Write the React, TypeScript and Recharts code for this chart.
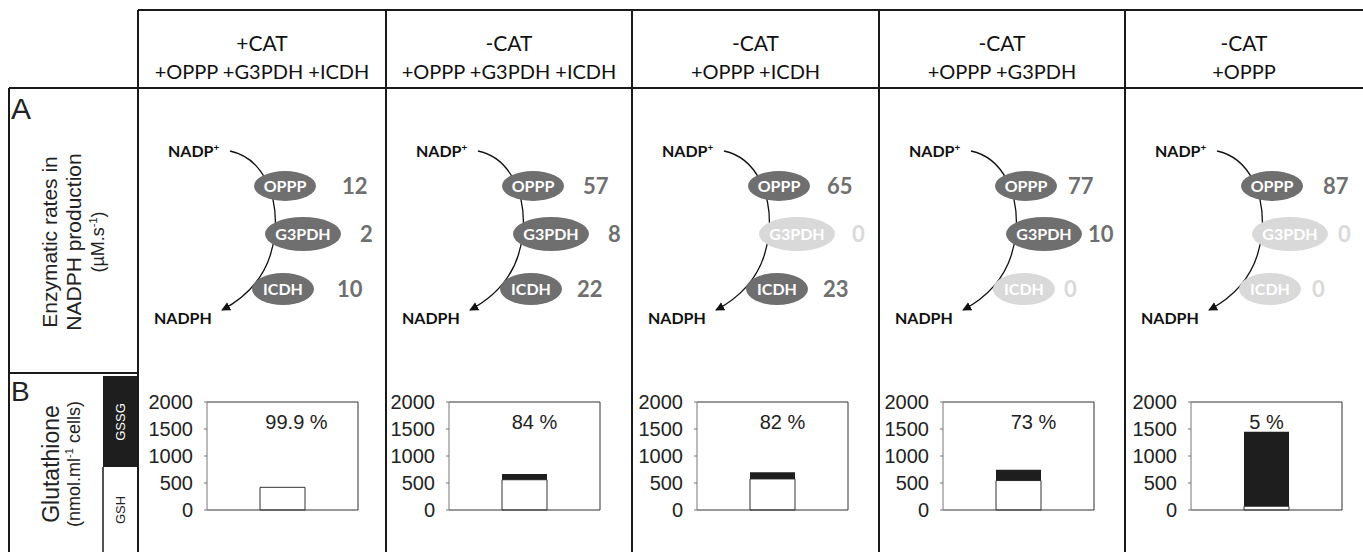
import { BarChart, Bar, XAxis, YAxis, ReferenceDot } from "recharts";

const conditions = ["+CAT", "-CAT", "-CAT", "-CAT", "-CAT"];
const enzymeSets = [
  "+OPPP +G3PDH +ICDH",
  "+OPPP +G3PDH +ICDH",
  "+OPPP +ICDH",
  "+OPPP +G3PDH",
  "+OPPP",
];
const enzymes = ["OPPP", "G3PDH", "ICDH"];
const opppRates = [12, 57, 65, 77, 87];
const g3pdhRates = [2, 8, 0, 10, 0];
const icdhRates = [10, 22, 23, 0, 0];
const gshValues = [420, 560, 575, 545, 70];
const gssgValues = [0.4, 107, 125, 200, 1380];
const gshPercent = ["99.9 %", "84 %", "82 %", "73 %", "5 %"];
const yTicks = [0, 500, 1000, 1500, 2000];

// layout
const colX = [138, 386, 632, 879, 1125];
const chartLeft = [142, 384, 632, 878, 1126];
const labelDx = [14, 10, 10, 15, 0];
const ellipses = [
  { cx: 147, cy: 186, rx: 31, ry: 15 },
  { cx: 165, cy: 234, rx: 38, ry: 17 },
  { cx: 145, cy: 289, rx: 31, ry: 16 },
];
const numberX = [
  [204, 222, 199],
  [197, 222, 191],
  [195, 220, 191],
  [189, 209, 185],
  [198, 213, 187],
];

const LINE = "#1a1a1a";
const ACTIVE = "#6f6f6f";
const INACTIVE = "#d9d9d9";
const ARIAL = "'Liberation Sans', Arial, sans-serif";
const CALIBRI = "Lato, 'Open Sans', sans-serif";

const Pathway = ({ i }: { i: number }) => {
  const x0 = colX[i];
  const rates = [opppRates[i], g3pdhRates[i], icdhRates[i]];
  return (
    <g transform={`translate(${x0},0)`} fontFamily={CALIBRI} fontWeight="bold">
      <text x={30} y={157} fontSize={16} fill="#111">
        NADP<tspan fontSize={10} dy={-6}>+</tspan>
      </text>
      <path
        d="M 92 151 C 125 158, 140 195, 137 232 C 134 265, 118 292, 84 310"
        fill="none"
        stroke="#111"
        strokeWidth={1.3}
        markerEnd="url(#arr)"
      />
      {enzymes.map((name, k) => {
        const e = ellipses[k];
        const on = rates[k] > 0;
        return (
          <g key={name}>
            <ellipse cx={e.cx} cy={e.cy} rx={e.rx} ry={e.ry} fill={on ? ACTIVE : INACTIVE} />
            <text x={e.cx} y={e.cy + 6} fontSize={16} fill="#fff" textAnchor="middle">
              {name}
            </text>
            <text x={numberX[i][k]} y={e.cy + 8} fontSize={22} fill={on ? ACTIVE : INACTIVE}>
              {rates[k]}
            </text>
          </g>
        );
      })}
      <text x={16} y={324} fontSize={16} fill="#111">
        NADPH
      </text>
    </g>
  );
};

const GlutathionePanel = ({ i }: { i: number }) => {
  const data = [{ name: "c", gsh: gshValues[i], gssg: gssgValues[i] }];
  return (
    <div style={{ position: "absolute", left: chartLeft[i], top: 373 }}>
      <BarChart
        width={247}
        height={179}
        data={data}
        margin={{ top: 28, right: 30, bottom: 41, left: 0 }}
      >
        <XAxis dataKey="name" tick={false} tickLine={false} height={1} axisLine={{ stroke: "#333" }} />
        <XAxis
          xAxisId="top"
          orientation="top"
          dataKey="name"
          tick={false}
          tickLine={false}
          height={1}
          axisLine={{ stroke: "#333" }}
        />
        <YAxis
          domain={[0, 2000]}
          ticks={yTicks}
          interval={0}
          width={65}
          tickSize={3}
          tickMargin={11}
          axisLine={{ stroke: "#777" }}
          tickLine={{ stroke: "#777" }}
          tick={{ fontSize: 20, fill: "#222", fontFamily: ARIAL }}
        />
        <YAxis
          yAxisId="right"
          orientation="right"
          domain={[0, 2000]}
          tick={false}
          tickLine={false}
          width={1}
          axisLine={{ stroke: "#333" }}
        />
        <Bar dataKey="gsh" stackId="g" fill="#fff" stroke="#333" barSize={45} isAnimationActive={false} />
        <Bar dataKey="gssg" stackId="g" fill="#1e1e1e" barSize={45} isAnimationActive={false} />
        <ReferenceDot
          x="c"
          y={1630}
          r={0}
          fill="none"
          stroke="none"
          label={{
            value: gshPercent[i],
            position: "center",
            dx: labelDx[i],
            fontSize: 20,
            fill: "#222",
            fontFamily: ARIAL,
          }}
        />
      </BarChart>
    </div>
  );
};

export default function App() {
  return (
    <div style={{ position: "absolute", left: 0, top: 0, width: 1363, height: 552, background: "#fff" }}>
      <svg width={1363} height={552} style={{ position: "absolute", left: 0, top: 0 }}>
        <defs>
          <marker id="arr" viewBox="0 0 10 10" refX="9" refY="5" markerWidth="7" markerHeight="7" orient="auto">
            <path d="M0,0 L10,5 L0,10 z" fill="#111" />
          </marker>
        </defs>
        {/* table grid */}
        <g stroke={LINE} strokeWidth={2} fill="none">
          <path d="M138 10 H1363" />
          <path d="M9 88 H1363" />
          <path d="M9 88 V552" />
          <path d="M9 373 H138" />
          {colX.map((x) => (
            <path key={x} d={`M${x} 10 V552`} />
          ))}
          <path d="M103 467 V552" strokeWidth={1.5} />
        </g>
        <rect x={103} y={376} width={35} height={91} fill="#1e1e1e" />

        {/* headers */}
        {conditions.map((c, i) => {
          const cx = colX[i] + (i < 4 ? (colX[i + 1] - colX[i]) / 2 : 119);
          return (
            <g key={i} fontFamily={CALIBRI} fill="#111" textAnchor="middle">
              <text x={cx} y={51} fontSize={21}>
                {c}
              </text>
              <text x={cx} y={79} fontSize={20}>
                {enzymeSets[i]}
              </text>
            </g>
          );
        })}

        {/* row labels */}
        <g fontFamily={ARIAL} fill="#222">
          <text x={11} y={119} fontSize={30}>
            A
          </text>
          <g transform="translate(0,242) rotate(-90)" textAnchor="middle">
            <text x={0} y={57} fontSize={21}>
              Enzymatic rates in
            </text>
            <text x={0} y={81} fontSize={21}>
              NADPH production
            </text>
            <text x={0} y={104} fontSize={18}>
              (µM.s<tspan fontSize={11} dy={-7}>-1</tspan>
              <tspan dy={7}>)</tspan>
            </text>
          </g>
          <text x={11} y={401} fontSize={28}>
            B
          </text>
          <g transform="translate(0,464) rotate(-90)" textAnchor="middle">
            <text x={0} y={59} fontSize={23}>
              Glutathione
            </text>
            <text x={0} y={80} fontSize={18}>
              (nmol.ml<tspan fontSize={11} dy={-7}>-1</tspan>
              <tspan dy={7}> cells)</tspan>
            </text>
          </g>
          <text transform="translate(125,422) rotate(-90)" textAnchor="middle" fontSize={13} fill="#fff">
            GSSG
          </text>
          <text transform="translate(125,510) rotate(-90)" textAnchor="middle" fontSize={13} fill="#222">
            GSH
          </text>
        </g>

        {conditions.map((_, i) => (
          <Pathway key={i} i={i} />
        ))}
      </svg>
      {conditions.map((_, i) => (
        <GlutathionePanel key={i} i={i} />
      ))}
    </div>
  );
}
